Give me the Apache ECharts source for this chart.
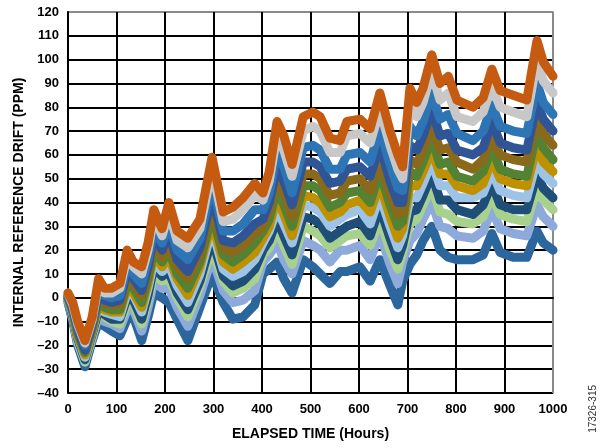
<!DOCTYPE html>
<html>
<head>
<meta charset="utf-8">
<script src="https://cdn.jsdelivr.net/npm/echarts@6/dist/echarts.min.js"></script>
<style>
html,body{margin:0;padding:0;background:#fff;}
#chart{width:608px;height:448px;}
</style>
</head>
<body>
<div id="chart"></div>
<script>
// Elapsed time sample points (hours)
const hours = [0,10,20,35,50,63,75,90,107,122,135,152,165,177,194,208,225,247,272,297,320,340,361,385,402,415,431,445,462,485,505,520,540,561,575,602,623,643,664,680,690,705,719,732,750,767,784,802,835,856,874,891,918,946,967,980,1000];

// Drift traces (PPM), top to bottom
const unitOrange = [2,-2,-10,-18,-8, 8,4,4,6,20, 15,13,23,37,29, 40,28,25,33,59, 36,38,42,48,44, 53,74,68,56,76, 78,76,67,66,74, 75,71,86,70,60, 55,88,82,88,102, 90,93,83,80,84, 96,87,85,83,108, 99,93];
const unitGrey = [2,-3,-11,-19,-9, 6,2,2,4,17, 13,10,20,34,26, 36,24,21,29,54, 32,33,37,43,41, 49,68,62,51,70, 72,70,61,61,68, 69,65,79,64,54, 50,81,76,82,95, 83,86,76,74,78, 89,80,78,76,100, 91,86];
const unitBlue = [1,-4,-12,-20,-10, 4,1,0,1,14, 10,6,16,29,23, 31,20,16,25,48, 28,28,31,37,37, 44,61,55,44,63, 64,62,54,54,60, 61,57,71,56,46, 45,72,68,74,86, 75,77,69,66,70, 81,72,70,69,90, 82,77];
const unitRoyal = [1,-5,-13,-22,-11, 2,-1,-2,-1,11, 8,3,13,26,20, 27,16,11,21,43, 24,23,26,31,33, 40,55,49,39,57, 57,55,48,49,54, 55,51,64,49,40, 40,64,62,68,79, 68,69,62,60,63, 74,65,63,62,82, 75,70];
const unitOlive = [0,-5,-14,-22,-12, 1,-2,-3,-3,8, 6,1,11,23,17, 23,13,8,18,39, 21,19,22,27,30, 37,50,44,34,52, 52,50,43,44,49, 50,45,58,44,35, 36,58,56,62,73, 62,63,57,54,58, 68,60,58,57,76, 69,64];
const unitGreen = [0,-6,-15,-23,-13, -1,-4,-5,-5,6, 4,-2,8,20,15, 20,10,4,15,35, 18,15,18,23,28, 33,46,39,30,47, 47,45,38,40,44, 45,40,53,39,30, 32,53,51,57,67, 56,57,51,49,53, 63,54,52,51,70, 63,58];
const unitGold = [0,-6,-16,-24,-14, -2,-5,-6,-6,4, 2,-4,6,18,13, 17,8,1,13,32, 15,12,15,19,25, 30,42,35,26,43, 42,40,34,36,39, 41,36,48,34,25, 29,47,47,53,62, 52,52,47,45,48, 58,50,48,47,64, 57,53];
const unitSky = [-1,-7,-16,-25,-14, -3,-6,-7,-8,2, 1,-6,4,15,11, 14,5,-2,10,29, 12,9,11,16,23, 28,37,31,23,39, 38,36,30,33,35, 37,31,43,30,21, 26,42,42,48,57, 47,47,42,42,44, 53,45,43,42,58, 52,48];
const unitNavy = [-1,-8,-17,-26,-15, -5,-7,-9,-9,0, -1,-9,1,13,9, 11,2,-5,7,25, 9,5,7,12,20, 24,33,26,18,34, 33,31,25,28,30, 32,26,38,25,16, 22,36,37,43,52, 41,41,37,35,39, 48,39,37,37,52, 46,42];
const unitLightGreen = [-1,-8,-18,-27,-16, -6,-8,-10,-11,-2, -3,-11,-1,10,7, 8,0,-8,5,21, 7,2,4,8,18, 21,29,22,14,30, 28,26,21,24,26, 27,22,33,20,12, 19,31,33,39,47, 36,35,32,31,34, 43,35,33,32,46, 41,37];
const unitPeriwinkle = [-1,-9,-19,-27,-17, -7,-10,-11,-13,-5, -5,-14,-4,7,4, 4,-4,-12,1,17, 3,-2,-1,3,15, 18,23,16,10,24, 22,20,15,20,20, 22,16,27,14,6, 15,24,27,33,40, 30,29,26,25,28, 37,29,27,26,39, 34,30];
const unitBottom = [-2,-10,-20,-29,-18, -10,-12,-14,-16,-9, -8,-18,-8,2,0, -2,-9,-18,-4,10, -2,-9,-8,-3,10, 12,15,8,2,16, 13,10,6,11,11, 13,7,16,5,-3, 7,14,18,24,30, 20,17,16,16,18, 27,19,17,17,28, 23,20];

const xTicks = [0,100,200,300,400,500,600,700,800,900,1000];
const yTicks = [-40,-30,-20,-10,0,10,20,30,40,50,60,70,80,90,100,110,120];

const traces = [
  {name:'Unit 12', data:unitBottom, color:'#2b679c'},
  {name:'Unit 11', data:unitPeriwinkle, color:'#8eaadb'},
  {name:'Unit 10', data:unitLightGreen, color:'#a9d18e'},
  {name:'Unit 9', data:unitNavy, color:'#1f4e79'},
  {name:'Unit 8', data:unitSky, color:'#9dc3e6'},
  {name:'Unit 7', data:unitGold, color:'#bf9000'},
  {name:'Unit 6', data:unitGreen, color:'#548235'},
  {name:'Unit 5', data:unitOlive, color:'#8a6a1a'},
  {name:'Unit 4', data:unitRoyal, color:'#2f5597'},
  {name:'Unit 3', data:unitBlue, color:'#2e75b6'},
  {name:'Unit 2', data:unitGrey, color:'#c8c8c8'},
  {name:'Unit 1', data:unitOrange, color:'#c55a11'}
];

const font = '"Liberation Sans", Arial, sans-serif';
const ySplitColors = yTicks.map((v,i)=> i===yTicks.length-1 ? '#8a8a8a' : '#000');
const xSplitColors = xTicks.map((v,i)=> i===xTicks.length-1 ? '#8a8a8a' : '#000');

const chart = echarts.init(document.getElementById('chart'), null, {renderer:'canvas'});
chart.setOption({
  animation:false,
  backgroundColor:'#fff',
  grid:{left:68, right:55, top:12, bottom:55, show:true, borderColor:'#8a8a8a', borderWidth:1.5},
  xAxis:{
    type:'value', min:xTicks[0], max:xTicks[xTicks.length-1], interval:100,
    name:'ELAPSED TIME (Hours)', nameLocation:'middle', nameGap:34,
    nameTextStyle:{fontFamily:font, fontWeight:'bold', fontSize:14, color:'#000'},
    axisLine:{show:true, lineStyle:{color:'#000', width:2}},
    axisTick:{show:false},
    axisLabel:{fontFamily:font, fontWeight:'bold', fontSize:13, color:'#000', margin:10,
      formatter:(v)=> String(v)},
    splitLine:{show:true, lineStyle:{color:xSplitColors, width:2}}
  },
  yAxis:{
    type:'value', min:yTicks[0], max:yTicks[yTicks.length-1], interval:10,
    name:'INTERNAL REFERENCE DRIFT (PPM)', nameLocation:'middle', nameGap:42,
    nameTextStyle:{fontFamily:font, fontWeight:'bold', fontSize:14, color:'#000'},
    axisLine:{show:true, lineStyle:{color:'#000', width:2}},
    axisTick:{show:false},
    axisLabel:{fontFamily:font, fontWeight:'bold', fontSize:13, color:'#000', margin:9,
      formatter:(v)=> String(v).replace('-', '\u2013')},
    splitLine:{show:true, lineStyle:{color:ySplitColors, width:2}}
  },
  series: traces.map(t=>({
    name:t.name, type:'line', showSymbol:false, symbol:'none', smooth:false,
    data: hours.map((h,i)=>[h, t.data[i]]),
    lineStyle:{color:t.color, width:9, join:'round', cap:'round'},
    itemStyle:{color:t.color}
  })),
  graphic:[{
    type:'text', left:588, top:385, rotation:Math.PI/2,
    style:{text:'17326-315', fontFamily:font, fontSize:10, fill:'#333'}
  }]
});
</script>
</body>
</html>
